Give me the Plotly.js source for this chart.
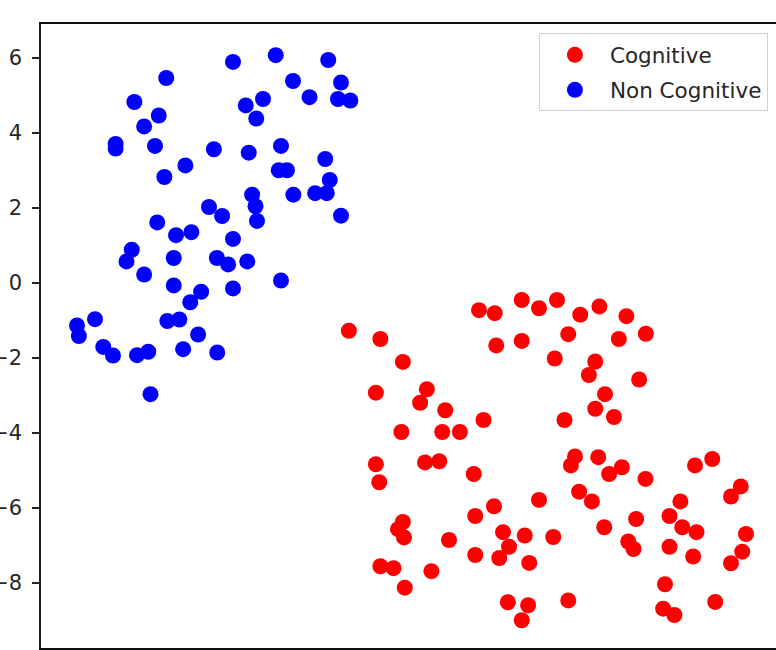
<!DOCTYPE html>
<html>
<head>
<meta charset="utf-8">
<script src="https://cdn.plot.ly/plotly-3.0.1.min.js"></script>
<style>
  html, body { margin: 0; padding: 0; background: #fff; }
  #chart { width: 776px; height: 650px; }
</style>
</head>
<body>
<div id="chart"></div>
<script>
// Two-dimensional embedding of the samples, split by class
const seriesNames = ["Cognitive", "Non Cognitive"];

const cognitiveX = [
  1.30, 2.14, 2.74, 2.02, 3.38, 3.20, 3.87, 4.89, 2.70, 3.79, 4.26,
  4.77, 5.19, 5.91, 6.37, 5.23, 5.91, 6.85, 7.47, 7.98, 8.70, 7.15,
  8.50, 9.22, 6.79, 7.87, 7.70, 9.04, 8.13, 7.87, 8.37, 7.05,
  2.02, 2.11, 3.33, 3.71, 4.63, 5.17, 6.37, 4.67, 2.74, 2.61, 2.77,
  3.97, 5.41, 5.99, 5.57, 5.31, 4.67, 6.11, 2.14, 2.49, 3.50, 2.79,
  5.54, 6.08, 5.91,
  7.33, 7.22, 7.95, 8.24, 8.58, 9.21, 7.44, 7.78, 10.53, 10.99, 11.75,
  11.49, 10.14, 9.85, 8.96, 8.11, 6.75, 10.19, 10.57, 11.89, 8.75, 8.89,
  9.85, 10.48, 11.79, 11.49, 9.73, 7.15, 9.68, 9.98, 11.07
];
const cognitiveY = [
  -1.27, -1.49, -2.10, -2.92, -2.83, -3.19, -3.39, -3.65, -3.97, -3.97, -3.97,
  -0.72, -0.80, -0.45, -0.67, -1.66, -1.54, -0.45, -0.84, -0.62, -0.88, -1.36,
  -1.49, -1.35, -2.01, -2.09, -2.45, -2.57, -2.96, -3.35, -3.57, -3.65,
  -4.83, -5.31, -4.78, -4.75, -5.09, -5.95, -5.78, -6.21, -6.37, -6.56, -6.78,
  -6.85, -6.64, -6.73, -7.03, -7.33, -7.25, -7.46, -7.55, -7.60, -7.68, -8.12,
  -8.51, -8.59, -8.99,
  -4.62, -4.86, -4.64, -5.09, -4.91, -5.22, -5.56, -5.82, -4.86, -4.69, -5.42,
  -5.69, -5.82, -6.21, -6.29, -6.51, -6.77, -6.51, -6.64, -6.69, -6.89, -7.09,
  -7.03, -7.29, -7.16, -7.47, -8.03, -8.46, -8.68, -8.85, -8.50
];

const nonCognitiveX = [
  -4.92, -4.92, -4.42, -4.16, -3.77, -3.57, -3.87, -3.62, -3.06, -2.30,
  -1.79, -1.45, -0.99, -1.17, -1.37, -0.65, -0.19, 0.25, 0.75, 1.09,
  1.01, 1.34, -0.51, -0.57, -0.35, 0.67, 0.79, 0.40, 0.71, -0.18,
  -1.28, -1.19, -2.43, -2.08, -1.15, 1.09, -3.81, -3.31, -2.90, -1.79,
  -4.49, -4.63, -4.16, -3.37, -2.22, -1.92, -1.41, -0.51, -3.37, -2.64,
  -2.93, -1.79, -5.95, -5.90, -5.47, -3.54, -3.22, -2.72, -5.25, -4.99,
  -4.35, -4.05, -3.12, -2.21, -3.99
];
const nonCognitiveY = [
  3.71, 3.59, 4.83, 4.18, 4.47, 5.47, 3.66, 2.83, 3.14, 3.57,
  5.90, 4.74, 4.91, 4.39, 3.48, 6.08, 5.39, 4.96, 5.95, 5.35,
  4.91, 4.87, 3.66, 3.01, 3.01, 3.31, 2.75, 2.40, 2.40, 2.36,
  2.36, 2.05, 2.03, 1.79, 1.66, 1.80, 1.62, 1.28, 1.36, 1.18,
  0.89, 0.58, 0.23, 0.67, 0.67, 0.50, 0.58, 0.07, -0.06, -0.23,
  -0.51, -0.14, -1.13, -1.41, -0.96, -1.01, -0.97, -1.37, -1.70, -1.93,
  -1.92, -1.83, -1.76, -1.85, -2.96
];

const yTicks = [-8, -6, -4, -2, 0, 2, 4, 6];
const yTickText = ["\u22128", "\u22126", "\u22124", "\u22122", "0", "2", "4", "6"];

const tickFont = { family: "DejaVu Sans, sans-serif", size: 21, color: "#262626" };
const legendFont = { family: "DejaVu Sans, sans-serif", size: 21.5, color: "#262626" };

const traces = [
  {
    type: "scatter", mode: "markers", name: seriesNames[0],
    x: cognitiveX, y: cognitiveY, legendgroup: "a",
    marker: { color: "#ff0000", size: 16, line: { width: 0 } },
    hoverinfo: "skip"
  },
  {
    type: "scatter", mode: "markers", name: seriesNames[1],
    x: nonCognitiveX, y: nonCognitiveY, legendgroup: "b",
    marker: { color: "#0000ff", size: 16, line: { width: 0 } },
    hoverinfo: "skip"
  }
];

const layout = {
  width: 776, height: 650,
  margin: { l: 41, r: 0, t: 24, b: 2, pad: 0 },
  paper_bgcolor: "#ffffff", plot_bgcolor: "#ffffff",
  font: tickFont,
  showlegend: true,
  legend: {
    x: 0.989, xanchor: "right", y: 0.985, yanchor: "top",
    bgcolor: "rgba(255,255,255,0.85)", bordercolor: "#d0d0d0", borderwidth: 1,
    font: legendFont, itemwidth: 60, tracegroupgap: 4, traceorder: "grouped"
  },
  xaxis: {
    range: [-6.91, 12.69], showgrid: false, zeroline: false,
    showline: true, linecolor: "#111", linewidth: 2, mirror: true,
    ticks: "", showticklabels: false, fixedrange: true
  },
  yaxis: {
    range: [-9.73, 6.91], showgrid: false, zeroline: false,
    showline: true, linecolor: "#222", linewidth: 1.6, mirror: false,
    tickmode: "array", tickvals: yTicks, ticktext: yTickText,
    ticks: "outside", ticklen: 7, tickwidth: 1.3, tickcolor: "#222",
    ticklabelstandoff: 6, tickfont: tickFont, fixedrange: true
  }
};

Plotly.newPlot("chart", traces, layout, { displayModeBar: false, staticPlot: true });
</script>
</body>
</html>
